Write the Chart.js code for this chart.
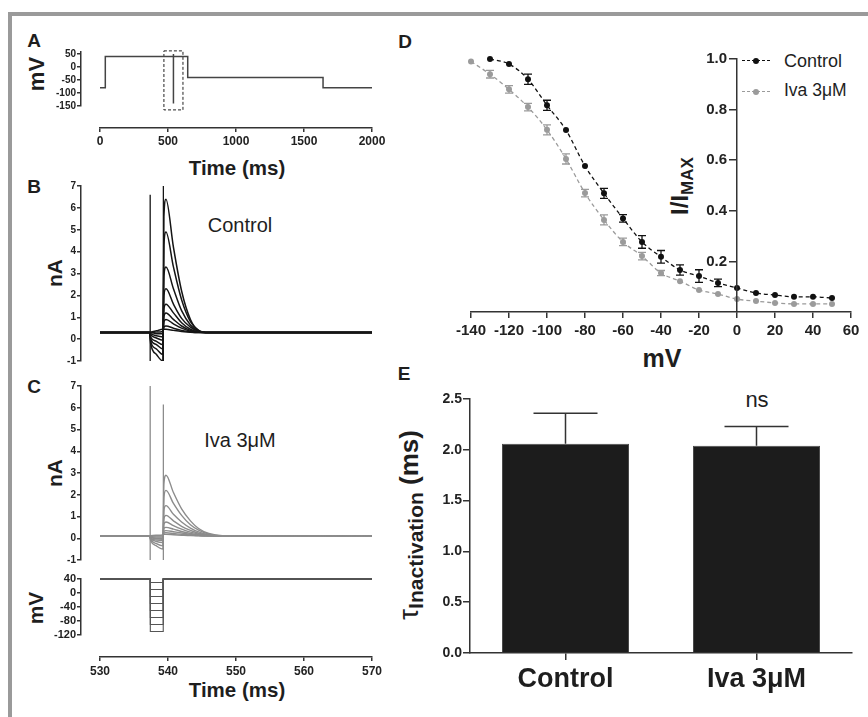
<!DOCTYPE html>
<html><head><meta charset="utf-8">
<script src="https://cdn.jsdelivr.net/npm/chart.js@4"></script>
<style>
html,body{margin:0;padding:0;background:#fff;}
#wrap{position:relative;width:868px;height:717px;overflow:hidden;font-family:"Liberation Sans",Arial,sans-serif;color:#1e1e1e;background:#fff;}
#wrap canvas{position:absolute;left:0;top:0;}
.t{position:absolute;white-space:nowrap;line-height:1;transform:translate(-50%,-50%);}
.r{transform:translate(-50%,-50%) rotate(-90deg);}
.b{font-weight:bold;}
.leg{position:absolute;width:28px;height:0;border-top:1.4px dashed;}
.dot{position:absolute;width:6px;height:6px;border-radius:50%;transform:translate(-50%,-50%);}
</style></head>
<body>
<div id="wrap">
  <div style="position:absolute;left:8px;top:12px;width:860px;height:4px;background:#9a9a9a;"></div>
  <div style="position:absolute;left:8px;top:12px;width:4px;height:705px;background:#9a9a9a;"></div>

  <div class="t b" style="left:34px;top:40px;font-size:19px;">A</div>
  <div class="t b" style="left:34px;top:186px;font-size:19px;">B</div>
  <div class="t b" style="left:34px;top:386px;font-size:19px;">C</div>
  <div class="t b" style="left:405px;top:41px;font-size:19px;">D</div>
  <div class="t b" style="left:404px;top:373px;font-size:19px;">E</div>

  <div class="t b r" style="left:37px;top:74px;font-size:22px;">mV</div>
  <div class="t b" style="left:237px;top:168px;font-size:20.5px;">Time (ms)</div>
  <div class="t b r" style="left:54px;top:273px;font-size:21px;">nA</div>
  <div class="t" style="left:240px;top:225px;font-size:20px;">Control</div>
  <div class="t b r" style="left:54px;top:473px;font-size:21px;">nA</div>
  <div class="t" style="left:240px;top:440px;font-size:20px;">Iva 3μM</div>
  <div class="t b r" style="left:35px;top:608px;font-size:21px;">mV</div>
  <div class="t b" style="left:237px;top:690px;font-size:20.5px;">Time (ms)</div>

  <div class="leg" style="left:742px;top:60px;border-color:#111;"></div>
  <div class="dot" style="left:756px;top:60.5px;background:#111;"></div>
  <div class="t" style="left:784px;top:61px;font-size:18px;transform:translate(0,-50%);">Control</div>
  <div class="leg" style="left:742px;top:91px;border-color:#9b9b9b;"></div>
  <div class="dot" style="left:756px;top:91.5px;background:#9b9b9b;"></div>
  <div class="t" style="left:784px;top:91px;font-size:17.5px;transform:translate(0,-50%);">Iva 3μM</div>
  <div class="t b r" style="left:680px;top:186px;font-size:24px;">I/I<span style="font-size:17px;position:relative;top:5px;">MAX</span></div>
  <div class="t b" style="left:662px;top:358px;font-size:25px;">mV</div>

  <div class="t" style="left:757px;top:400px;font-size:22px;">ns</div>
  <div class="t b r" style="left:409px;top:525px;font-size:26px;"><span style="font-size:28px;font-weight:normal;">τ</span><span style="font-size:21px;position:relative;top:5px;">Inactivation</span> (ms)</div>
</div>
<script>
// ---------- Panel A: voltage protocol ----------
const protoTime = [0, 39, 39, 645, 645, 1640, 1640, 2000];
const protoVolt = [-80, -80, 40, 40, -40, -40, -80, -80];
const protoStepTime = [540, 540];
const protoStepVolt = [50, -140];
const zoomBoxTime = [470, 610, 610, 470, 470];
const zoomBoxVolt = [62, 62, -165, -165, 62];
const aYTicks = [-150, -100, -50, 0, 50];
const aXTicks = [0, 500, 1000, 1500, 2000];

// ---------- Panels B / C: current traces ----------
const traceTime = [530, 537.3, 537.45, 538.3, 539.25, 539.4, 539.7, 540.8, 542.0, 543.3, 544.5, 546.0, 548.0, 570];
const controlTraces = [
  [0.3, 0.3, -0.2, -0.7, -1.0, 5.6, 6.4, 4.2, 2.2, 0.9, 0.4, 0.3, 0.3, 0.3],
  [0.3, 0.3, -0.1, -0.45, -0.7, 4.3, 4.9, 3.3, 1.8, 0.8, 0.4, 0.3, 0.3, 0.3],
  [0.3, 0.3, 0.0, -0.25, -0.45, 2.9, 3.3, 2.3, 1.3, 0.65, 0.37, 0.3, 0.3, 0.3],
  [0.3, 0.3, 0.1, -0.1, -0.25, 2.0, 2.3, 1.6, 0.95, 0.55, 0.35, 0.3, 0.3, 0.3],
  [0.3, 0.3, 0.2, 0.05, -0.05, 1.4, 1.6, 1.2, 0.75, 0.45, 0.33, 0.3, 0.3, 0.3],
  [0.3, 0.3, 0.25, 0.15, 0.1, 1.05, 1.2, 0.9, 0.6, 0.4, 0.32, 0.3, 0.3, 0.3],
  [0.3, 0.3, 0.3, 0.25, 0.25, 0.8, 0.9, 0.7, 0.5, 0.36, 0.31, 0.3, 0.3, 0.3],
  [0.3, 0.3, 0.3, 0.32, 0.35, 0.55, 0.6, 0.5, 0.4, 0.33, 0.3, 0.3, 0.3, 0.3],
  [0.3, 0.3, 0.32, 0.38, 0.45, 0.45, 0.45, 0.4, 0.35, 0.31, 0.3, 0.3, 0.3, 0.3]
];
const ivaTraces = [
  [0.1, 0.1, -0.1, -0.35, -0.5, 2.5, 2.9, 2.1, 1.35, 0.8, 0.45, 0.22, 0.12, 0.1],
  [0.1, 0.1, -0.05, -0.25, -0.35, 1.9, 2.2, 1.6, 1.05, 0.62, 0.37, 0.19, 0.11, 0.1],
  [0.1, 0.1, 0.0, -0.15, -0.2, 1.3, 1.5, 1.1, 0.75, 0.47, 0.29, 0.16, 0.11, 0.1],
  [0.1, 0.1, 0.0, -0.08, -0.1, 0.9, 1.05, 0.8, 0.55, 0.36, 0.23, 0.14, 0.1, 0.1],
  [0.1, 0.1, 0.05, -0.03, -0.05, 0.65, 0.75, 0.58, 0.42, 0.28, 0.19, 0.13, 0.1, 0.1],
  [0.1, 0.1, 0.05, 0.0, 0.0, 0.45, 0.5, 0.42, 0.31, 0.22, 0.16, 0.12, 0.1, 0.1],
  [0.1, 0.1, 0.08, 0.05, 0.05, 0.32, 0.35, 0.3, 0.24, 0.18, 0.14, 0.11, 0.1, 0.1],
  [0.1, 0.1, 0.1, 0.1, 0.1, 0.24, 0.25, 0.22, 0.18, 0.15, 0.12, 0.11, 0.1, 0.1],
  [0.1, 0.1, 0.12, 0.14, 0.15, 0.18, 0.18, 0.16, 0.14, 0.12, 0.11, 0.1, 0.1, 0.1]
];
const transientTime = [537.38, 539.32];
const ctrlTransientTop = [6.6, 7];
const ivaTransientTop = [7, 6.15];
const transientBottom = -1;
const nATicks = [-1, 0, 1, 2, 3, 4, 5, 6, 7];

// ---------- Panel C bottom: step protocol ----------
const holdVolt = 40;
const stepVolts = [30, 10, -10, -30, -50, -70, -90, -110];
const stepTime = [530, 537.4, 537.4, 539.3, 539.3, 570];
const cVTicks = [-120, -80, -40, 0, 40];
const cXTicks = [530, 540, 550, 560, 570];

// ---------- Panel D: steady-state inactivation ----------
const ssVoltCtrl = [-130, -120, -110, -100, -90, -80, -70, -60, -50, -40, -30, -20, -10, 0, 10, 20, 30, 40, 50];
const ssCtrl = [1.0, 0.98, 0.92, 0.817, 0.719, 0.577, 0.469, 0.37, 0.277, 0.218, 0.166, 0.142, 0.115, 0.095, 0.075, 0.067, 0.06, 0.06, 0.055];
const ssCtrlErr = [0, 0, 0.02, 0.02, 0, 0, 0.02, 0.015, 0.025, 0.025, 0.02, 0.025, 0.015, 0, 0, 0, 0, 0, 0];
const ssVoltIva = [-140, -130, -120, -110, -100, -90, -80, -70, -60, -50, -40, -30, -20, -10, 0, 10, 20, 30, 40, 50];
const ssIva = [0.99, 0.94, 0.88, 0.81, 0.72, 0.605, 0.47, 0.364, 0.277, 0.221, 0.154, 0.122, 0.087, 0.071, 0.051, 0.043, 0.036, 0.032, 0.032, 0.032];
const ssIvaErr = [0, 0.015, 0.015, 0.015, 0.02, 0.02, 0.015, 0.02, 0.015, 0.015, 0.01, 0, 0, 0, 0, 0, 0, 0, 0, 0];
const dXTicks = [-140, -120, -100, -80, -60, -40, -20, 0, 20, 40, 60];
const dYTicks = [0.2, 0.4, 0.6, 0.8, 1.0];

// ---------- Panel E: tau inactivation ----------
const tauGroups = ['Control', 'Iva 3μM'];
const tauMean = [2.06, 2.04];
const tauSem = [0.30, 0.19];
const eYTicks = [0, 0.5, 1.0, 1.5, 2.0, 2.5];

// ================= rendering =================
Chart.defaults.font.family = "'Liberation Sans', Arial, sans-serif";
Chart.defaults.animation = false;
Chart.defaults.plugins.legend.display = false;
Chart.defaults.plugins.tooltip.enabled = false;
Chart.defaults.color = '#222';
const AX = '#333';
const W = 868, H = 717;
const wrap = document.getElementById('wrap');

const errPlugin = {
  id: 'errs',
  afterDatasetsDraw(chart) {
    const ctx = chart.ctx;
    chart.data.datasets.forEach((ds, di) => {
      if (!ds.errs) return;
      const meta = chart.getDatasetMeta(di);
      const ys = chart.scales[meta.yAxisID];
      ctx.save();
      ctx.strokeStyle = ds.errColor;
      ctx.lineWidth = ds.errWidth || 1.2;
      meta.data.forEach((el, i) => {
        const e = ds.errs[i];
        if (!e) return;
        const d = ds.data[i];
        const v = (typeof d === 'object') ? d.y : d;
        const x = el.x;
        const yTop = ys.getPixelForValue(v + e);
        const yBot = ds.errUpOnly ? el.y : ys.getPixelForValue(v - e);
        const w = ds.capHalf;
        ctx.beginPath();
        ctx.moveTo(x, yTop); ctx.lineTo(x, yBot);
        ctx.moveTo(x - w, yTop); ctx.lineTo(x + w, yTop);
        if (!ds.errUpOnly) { ctx.moveTo(x - w, yBot); ctx.lineTo(x + w, yBot); }
        ctx.stroke();
      });
      ctx.restore();
    });
  }
};

function mk(area, cfg, yw, xh) {
  const c = document.createElement('canvas');
  c.width = W; c.height = H;
  c.style.width = W + 'px'; c.style.height = H + 'px';
  wrap.appendChild(c);
  cfg.options = cfg.options || {};
  cfg.options.responsive = false;
  cfg.options.maintainAspectRatio = false;
  cfg.options.layout = { padding: { left: area.l - (yw || 0), top: area.t, right: W - area.r, bottom: H - area.b - (xh || 0) } };
  cfg.plugins = [errPlugin];
  return new Chart(c, cfg);
}
function hidden(min, max) { return { type: 'linear', min, max, display: false }; }
function axis(min, max, ticks, o) {
  const isX = o.isX;
  const s = {
    type: 'linear', min, max, display: true,
    afterBuildTicks: sc => { sc.ticks = ticks.map(v => ({ value: v })); },
    border: { display: true, color: AX, width: 1.5 },
    grid: { drawOnChartArea: false, drawTicks: true, tickLength: o.tl, color: AX, lineWidth: 1.5 },
    ticks: { font: { size: o.fs, weight: 'bold' }, color: '#222', padding: o.pad, maxRotation: 0, autoSkip: false,
             callback: o.fmt || (v => String(v)) }
  };
  if (isX) s.afterFit = sc => { sc.height = o.size; };
  else s.afterFit = sc => { sc.width = o.size; };
  return s;
}
const pts = (xs, ys) => xs.map((x, i) => ({ x, y: ys[i] }));

// ---- Panel A data ----
mk({ l: 81, t: 52, r: 372, b: 106 }, {
  type: 'line',
  data: { datasets: [
    { data: pts(protoTime, protoVolt), borderColor: '#444', borderWidth: 1.5, pointRadius: 0, tension: 0, clip: false },
    { data: pts(protoStepTime, protoStepVolt), borderColor: '#444', borderWidth: 1.5, pointRadius: 0, tension: 0, clip: false },
    { data: pts(zoomBoxTime, zoomBoxVolt), borderColor: '#222', borderWidth: 1, borderDash: [3, 2], pointRadius: 0, tension: 0, clip: false }
  ] },
  options: { scales: {
    x: hidden(-139.7, 2000),
    y: axis(-150, 57.7, aYTicks, { tl: 4, fs: 10, pad: 1, size: 40 })
  } }
}, 40, 0);
// ---- Panel A time axis ----
mk({ l: 100, t: 120, r: 372, b: 128 }, {
  type: 'line', data: { datasets: [] },
  options: { scales: {
    x: axis(0, 2000, aXTicks, { isX: true, tl: 4, fs: 12, pad: 2, size: 30 }),
    y: hidden(0, 1)
  } }
}, 0, 30);

// ---- Panel B / C traces ----
function traceChart(area, traces, color, tTop, lw) {
  const ds = traces.map(tr => ({ data: pts(traceTime, tr), borderColor: color, borderWidth: lw, pointRadius: 0, cubicInterpolationMode: 'monotone' }));
  transientTime.forEach((t, i) => {
    ds.push({ data: pts([t, t], [transientBottom, tTop[i]]), borderColor: color, borderWidth: 1.3, pointRadius: 0, tension: 0 });
  });
  mk(area, {
    type: 'line', data: { datasets: ds },
    options: { scales: {
      x: hidden(527.206, 570),
      y: axis(-1, 7, nATicks, { tl: 4, fs: 10, pad: 1, size: 40 })
    } }
  }, 40, 0);
}
traceChart({ l: 81, t: 186, r: 372, b: 361 }, controlTraces, '#151515', ctrlTransientTop, 1.5);
traceChart({ l: 81, t: 386, r: 372, b: 560 }, ivaTraces, '#8c8c8c', ivaTransientTop, 1.4);

// ---- Panel C step protocol ----
mk({ l: 81, t: 579, r: 372, b: 635 }, {
  type: 'line',
  data: { datasets: stepVolts.map(v => ({
    data: pts(stepTime, [holdVolt, holdVolt, v, v, holdVolt, holdVolt]),
    borderColor: '#555', borderWidth: 1.1, pointRadius: 0, tension: 0, clip: false })) },
  options: { scales: {
    x: hidden(527.206, 570),
    y: axis(-120, 40, cVTicks, { tl: 4, fs: 11, pad: 1, size: 40 })
  } }
}, 40, 0);
mk({ l: 100, t: 650, r: 372, b: 657 }, {
  type: 'line', data: { datasets: [] },
  options: { scales: {
    x: axis(530, 570, cXTicks, { isX: true, tl: 4, fs: 12, pad: 3, size: 30 }),
    y: hidden(0, 1)
  } }
}, 0, 30);

// ---- Panel D ----
mk({ l: 471, t: 59, r: 851, b: 312 }, {
  type: 'line',
  data: { datasets: [
    { data: pts(ssVoltIva, ssIva), borderColor: '#9b9b9b', backgroundColor: '#9b9b9b', borderWidth: 1.3, borderDash: [4, 3],
      pointRadius: 3, pointBackgroundColor: '#9b9b9b', pointBorderWidth: 0, cubicInterpolationMode: 'monotone', clip: false,
      errs: ssIvaErr, errColor: '#9b9b9b', capHalf: 4, errWidth: 1.3 },
    { data: pts(ssVoltCtrl, ssCtrl), borderColor: '#111', backgroundColor: '#111', borderWidth: 1.3, borderDash: [4, 3],
      pointRadius: 3, pointBackgroundColor: '#111', pointBorderWidth: 0, cubicInterpolationMode: 'monotone', clip: false,
      errs: ssCtrlErr, errColor: '#111', capHalf: 4, errWidth: 1.3 }
  ] },
  options: { scales: {
    x: axis(-140, 60, dXTicks, { isX: true, tl: 6, fs: 15, pad: 4, size: 40 }),
    y: hidden(0, 1)
  } }
}, 0, 40);
mk({ l: 737, t: 59, r: 851, b: 312 }, {
  type: 'line', data: { datasets: [] },
  options: { scales: {
    x: hidden(0, 60),
    y: axis(0, 1, dYTicks, { tl: 8, fs: 15, pad: 2, size: 70, fmt: v => Number(v).toFixed(1) })
  } }
}, 70, 0);

// ---- Panel E ----
const eY = axis(0, 2.5, eYTicks, { tl: 7, fs: 14, pad: 1, size: 60, fmt: v => Number(v).toFixed(1) });
mk({ l: 470, t: 399, r: 852, b: 653 }, {
  type: 'bar',
  data: { labels: tauGroups, datasets: [
    { data: tauMean, backgroundColor: '#1c1c1c', borderColor: '#4a4a4a', borderWidth: 1,
      barPercentage: 0.665, categoryPercentage: 1,
      errs: tauSem, errUpOnly: true, errColor: '#333', capHalf: 32, errWidth: 1.5 }
  ] },
  options: { scales: {
    x: { type: 'category', offset: true,
         afterFit: sc => { sc.height = 50; },
         border: { display: true, color: AX, width: 1.5 },
         grid: { offset: false, drawOnChartArea: false, drawTicks: true, tickLength: 7, color: AX, lineWidth: 1.5 },
         ticks: { font: { size: 27, weight: 'bold' }, color: '#1e1e1e', padding: 3, maxRotation: 0 } },
    y: eY
  } }
}, 60, 50);
</script>
</body></html>
